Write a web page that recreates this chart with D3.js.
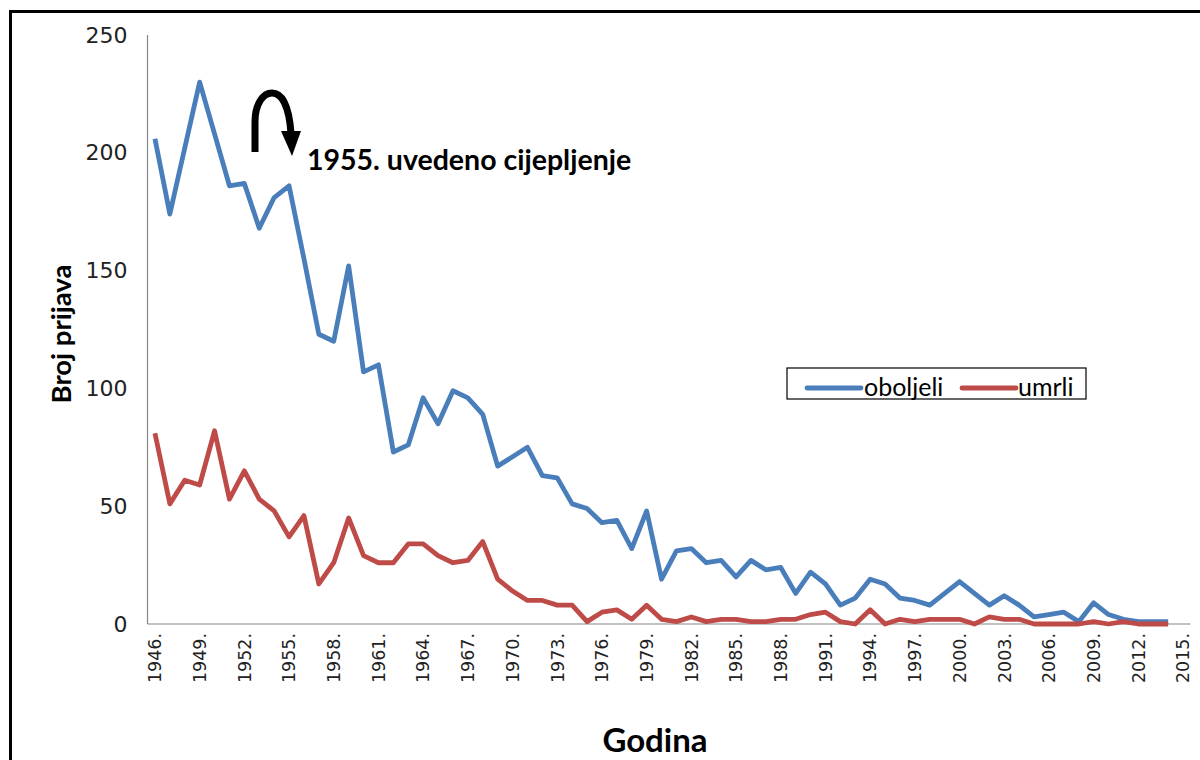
<!DOCTYPE html>
<html>
<head>
<meta charset="utf-8">
<script src="https://cdn.jsdelivr.net/npm/d3@7/dist/d3.min.js"></script>
<style>
  html, body { margin: 0; padding: 0; background: #fff; }
  svg { display: block; }
</style>
</head>
<body>
<svg id="chart" width="1200" height="760"></svg>
<script>
// ---- data ----
const years = [1946,1947,1948,1949,1950,1951,1952,1953,1954,1955,
  1956,1957,1958,1959,1960,1961,1962,1963,1964,1965,
  1966,1967,1968,1969,1970,1971,1972,1973,1974,1975,
  1976,1977,1978,1979,1980,1981,1982,1983,1984,1985,
  1986,1987,1988,1989,1990,1991,1992,1993,1994,1995,
  1996,1997,1998,1999,2000,2001,2002,2003,2004,2005,
  2006,2007,2008,2009,2010,2011,2012,2013,2014,2015];

// values for 1946..2014 (2015 has no data)
const oboljeli = [206,174,202,230,208,186,187,168,181,186,
  155,123,120,152,107,110,73,76,96,85,
  99,96,89,67,71,75,63,62,51,49,
  43,44,32,48,19,31,32,26,27,20,
  27,23,24,13,22,17,8,11,19,17,
  11,10,8,13,18,13,8,12,8,3,
  4,5,1,9,4,2,1,1,1];

const umrli = [81,51,61,59,82,53,65,53,48,37,
  46,17,26,45,29,26,26,34,34,29,
  26,27,35,19,14,10,10,8,8,1,
  5,6,2,8,2,1,3,1,2,2,
  1,1,2,2,4,5,1,0,6,0,
  2,1,2,2,2,0,3,2,2,0,
  0,0,0,1,0,1,0,0,0];

const yTicks = [0, 50, 100, 150, 200, 250];
const xTickYears = [1946,1949,1952,1955,1958,1961,1964,1967,1970,1973,1976,1979,
  1982,1985,1988,1991,1994,1997,2000,2003,2006,2009,2012,2015];

const seriesNames = ["oboljeli", "umrli"];
const seriesColors = ["#4A7EBB", "#BE4B48"];
const annotationText = "1955. uvedeno cijepljenje";

// ---- layout ----
const svg = d3.select("#chart");
const pLeft = 147.5, pRight = 1190.5, pTop = 35, pBottom = 624;

const x = d3.scaleBand().domain(years.map(String)).range([pLeft, pRight]).padding(0);
const y = d3.scaleLinear().domain([0, 250]).range([pBottom, pTop]);

// outer border (top and left visible)
svg.append("rect")
  .attr("x", 10.5).attr("y", 11.5)
  .attr("width", 1300).attr("height", 900)
  .attr("fill", "none").attr("stroke", "#000").attr("stroke-width", 3);

// axes lines
svg.append("line").attr("x1", pLeft).attr("x2", pLeft).attr("y1", pTop).attr("y2", pBottom)
  .attr("stroke", "#868686").attr("stroke-width", 1.2);
svg.append("line").attr("x1", pLeft).attr("x2", pRight).attr("y1", pBottom).attr("y2", pBottom)
  .attr("stroke", "#868686").attr("stroke-width", 1.2);

// y tick labels
const yAxis = d3.axisLeft(y).tickValues(yTicks).tickSize(0).tickPadding(0);
const gy = svg.append("g").attr("transform", `translate(${pLeft - 20},0)`).call(yAxis);
gy.select(".domain").remove();
gy.selectAll("text")
  .attr("font-family", "DejaVu Sans, Verdana, sans-serif")
  .attr("font-size", 22).attr("fill", "#222");

// x tick labels (rotated)
const xAxis = d3.axisBottom(x).tickValues(xTickYears.map(String)).tickSize(0).tickFormat(d => d + ".");
const gx = svg.append("g").attr("transform", `translate(0,${pBottom})`).call(xAxis);
gx.select(".domain").remove();
gx.selectAll("text")
  .attr("font-family", "DejaVu Sans, Verdana, sans-serif")
  .attr("font-size", 17.5).attr("fill", "#222")
  .attr("text-anchor", "end")
  .attr("dy", "0.36em")
  .attr("transform", "translate(0,9) rotate(-90)")
  .attr("y", 0).attr("x", 0);

// lines
const line = d3.line()
  .x((d, i) => x(String(years[i])) + x.bandwidth() / 2)
  .y(d => y(d));

[oboljeli, umrli].forEach((s, k) => {
  svg.append("path").datum(s)
    .attr("d", line)
    .attr("fill", "none")
    .attr("stroke", seriesColors[k])
    .attr("stroke-width", 4.8)
    .attr("stroke-linejoin", "round");
});

// axis titles
svg.append("text")
  .attr("transform", `translate(71,334) rotate(-90)`)
  .attr("text-anchor", "middle")
  .attr("font-family", "Lato, Open Sans, sans-serif")
  .attr("font-weight", "bold")
  .attr("font-size", 27.5)
  .attr("fill", "#000")
  .text("Broj prijava");

svg.append("text")
  .attr("x", 655).attr("y", 752)
  .attr("text-anchor", "middle")
  .attr("font-family", "Lato, Open Sans, sans-serif")
  .attr("font-weight", "bold")
  .attr("font-size", 33)
  .attr("fill", "#000")
  .text("Godina");

// legend
const lg = svg.append("g");
lg.append("rect").attr("x", 787).attr("y", 368).attr("width", 299).attr("height", 31)
  .attr("fill", "#fff").attr("stroke", "#000").attr("stroke-width", 1.2);
const legendItems = [{x0: 807, x1: 861, tx: 864}, {x0: 962, x1: 1016, tx: 1018}];
legendItems.forEach((it, k) => {
  lg.append("line").attr("x1", it.x0).attr("x2", it.x1).attr("y1", 388).attr("y2", 388)
    .attr("stroke", seriesColors[k]).attr("stroke-width", 4.8).attr("stroke-linecap", "round");
  lg.append("text").attr("x", it.tx).attr("y", 396)
    .attr("font-family", "Lato, Open Sans, sans-serif")
    .attr("font-size", 25).attr("fill", "#000")
    .text(seriesNames[k]);
});

// annotation arrow
svg.append("path")
  .attr("d", "M255,152 L255,122 C255,104 263,93 272,93 C282,93 289,106 291,133")
  .attr("fill", "none").attr("stroke", "#000").attr("stroke-width", 7);
svg.append("path")
  .attr("d", "M281,131 L301,131 L292,156 Z")
  .attr("fill", "#000");

svg.append("text")
  .attr("x", 307).attr("y", 170)
  .attr("font-family", "Lato, Open Sans, sans-serif")
  .attr("font-weight", "bold")
  .attr("font-size", 28.5)
  .attr("fill", "#000")
  .text(annotationText);
</script>
</body>
</html>
